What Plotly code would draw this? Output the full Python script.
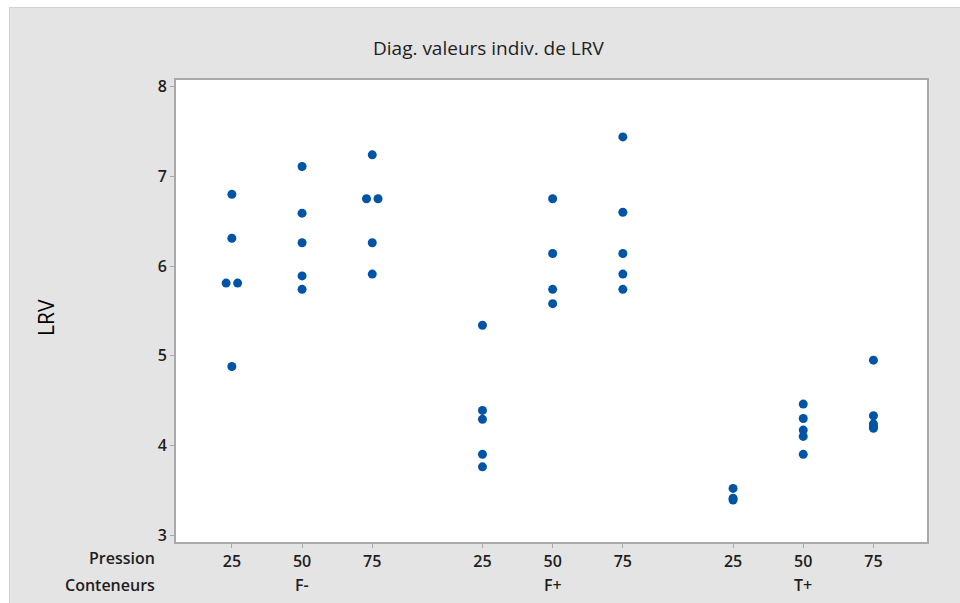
import plotly.graph_objects as go

# Individual LRV values by container type and pressure
conteneurs = ["F-", "F+", "T+"]
pressions = [25, 50, 75]

f_moins_25 = [6.80, 6.31, 5.81, 5.81, 4.88]
f_moins_50 = [7.11, 6.59, 6.26, 5.89, 5.74]
f_moins_75 = [7.24, 6.75, 6.75, 6.26, 5.91]
f_plus_25 = [5.34, 4.39, 4.29, 3.90, 3.76]
f_plus_50 = [6.75, 6.14, 5.74, 5.58]
f_plus_75 = [7.44, 6.60, 6.14, 5.91, 5.74]
t_plus_25 = [3.52, 3.41, 3.39]
t_plus_50 = [4.46, 4.30, 4.17, 4.10, 3.90]
t_plus_75 = [4.95, 4.33, 4.24, 4.21, 4.19]

cells = [
    [f_moins_25, f_moins_50, f_moins_75],
    [f_plus_25, f_plus_50, f_plus_75],
    [t_plus_25, t_plus_50, t_plus_75],
]

GROUP_STEP = 3.57   # spacing between container groups on the categorical axis
TIE_SHIFT = 0.082   # sideways shift for identical values within a cell

W, H = 960, 603
L, R, T, B = 176, 33, 80, 61
PW, PH = W - L - R, H - T - B


def px_x(p):
    return (p - L) / PW


def px_y(p):
    return (H - B - p) / PH


xs, ys, tickvals, ticktext, group_centres = [], [], [], [], []
for g, row in enumerate(cells):
    for i, vals in enumerate(row):
        pos = g * GROUP_STEP + i
        tickvals.append(pos)
        ticktext.append(str(pressions[i]))
        counts = {}
        for v in vals:
            counts[v] = counts.get(v, 0) + 1
        seen = {}
        for v in vals:
            n = counts[v]
            k = seen.get(v, 0)
            seen[v] = k + 1
            off = (k - (n - 1) / 2) * 2 * TIE_SHIFT if n > 1 else 0.0
            xs.append(pos + off)
            ys.append(v)
    group_centres.append(g * GROUP_STEP + 1)

TEXT = "#1e1e1e"
FRAME = "#a9a9a9"
FONT = "Open Sans"

fig = go.Figure(
    go.Scatter(
        x=xs, y=ys, mode="markers",
        marker=dict(color="#0054A6", size=9, line=dict(width=0)),
        showlegend=False, hoverinfo="y",
    )
)

annotations = [
    dict(text="Diag. valeurs indiv. de LRV", xref="paper", yref="paper",
         x=px_x(488), y=px_y(48), xanchor="center", yanchor="middle",
         showarrow=False, font=dict(family=FONT, size=19, color=TEXT)),
    dict(text="LRV", xref="paper", yref="paper", x=px_x(46), y=px_y(318),
         xanchor="center", yanchor="middle", textangle=-90, showarrow=False,
         font=dict(family=FONT, size=21, color="#000000")),
    dict(text="Pression", xref="paper", yref="paper", x=px_x(157), y=px_y(558),
         xanchor="right", yanchor="middle", showarrow=False,
         font=dict(family=FONT, size=16, color=TEXT, weight=600)),
    dict(text="Conteneurs", xref="paper", yref="paper", x=px_x(157), y=px_y(585),
         xanchor="right", yanchor="middle", showarrow=False,
         font=dict(family=FONT, size=16, color=TEXT, weight=600)),
]
for c, name in zip(group_centres, conteneurs):
    annotations.append(dict(
        text=name, xref="x", yref="paper", x=c, y=px_y(585),
        xanchor="center", yanchor="middle", showarrow=False,
        font=dict(family=FONT, size=16, color=TEXT, weight=600)))

shapes = [
    # white strips framing the grey panel at top and left
    dict(type="rect", xref="paper", yref="paper", x0=px_x(0), x1=px_x(W + 5),
         y0=px_y(0), y1=px_y(7), fillcolor="white", line=dict(width=0), layer="below"),
    dict(type="rect", xref="paper", yref="paper", x0=px_x(0), x1=px_x(9),
         y0=px_y(0), y1=px_y(H + 5), fillcolor="white", line=dict(width=0), layer="below"),
    dict(type="line", xref="paper", yref="paper", x0=px_x(9), x1=px_x(W + 5),
         y0=px_y(7.5), y1=px_y(7.5), line=dict(color="#d2d2d2", width=1)),
    dict(type="line", xref="paper", yref="paper", x0=px_x(9.5), x1=px_x(9.5),
         y0=px_y(7), y1=px_y(H + 5), line=dict(color="#d2d2d2", width=1)),
]

fig.update_layout(
    width=W, height=H,
    margin=dict(l=L, r=R, t=T, b=B, pad=0),
    paper_bgcolor="#e4e4e4",
    plot_bgcolor="white",
    annotations=annotations,
    shapes=shapes,
    font=dict(family=FONT, color=TEXT),
)
fig.update_xaxes(
    range=[-0.796, 2 * GROUP_STEP + 2 + 0.763],
    tickmode="array", tickvals=tickvals, ticktext=ticktext,
    showgrid=False, zeroline=False,
    showline=True, linecolor=FRAME, linewidth=2, mirror=True,
    ticks="outside", ticklen=4, tickcolor=FRAME, tickwidth=1,
    tickfont=dict(family=FONT, size=16, color=TEXT, weight=600),
)
fig.update_yaxes(
    range=[2.922, 8.075],
    tickmode="array", tickvals=[3, 4, 5, 6, 7, 8],
    showgrid=False, zeroline=False,
    showline=True, linecolor=FRAME, linewidth=2, mirror=True,
    ticks="outside", ticklen=4, tickcolor=FRAME, tickwidth=1,
    tickfont=dict(family=FONT, size=16, color=TEXT, weight=600),
)

fig.write_html("out.html")
